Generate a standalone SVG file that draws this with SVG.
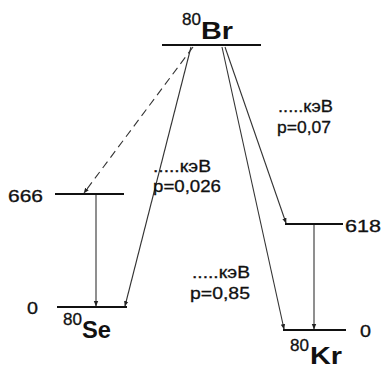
<svg xmlns="http://www.w3.org/2000/svg" width="387" height="369" viewBox="0 0 387 369">
<style>
.lvl{stroke:#111;stroke-width:2.2;fill:none}
.c{stroke:#333;stroke-width:1.1;fill:none}
.t{font-family:"Liberation Sans",Arial,sans-serif;font-size:17px;fill:#111;stroke:#111;stroke-width:0.3}
.n{font-family:"Liberation Sans",Arial,sans-serif;font-size:17px;fill:#111;stroke:#111;stroke-width:0.3}
.el{font-family:"Liberation Sans",Arial,sans-serif;font-size:24px;font-weight:bold;fill:#111}
.sup{font-family:"Liberation Sans",Arial,sans-serif;font-size:17px;fill:#111;stroke:#111;stroke-width:0.3}
</style>
<defs>
<marker id="ah" viewBox="0 0 10 10" refX="9" refY="5" markerWidth="5" markerHeight="5" orient="auto"><path d="M0,1 L10,5 L0,9 z" fill="#222"/></marker>
</defs>
<rect width="387" height="369" fill="#fff"/>
<g id="br">
<line class="lvl" x1="162" y1="45" x2="261" y2="45"/>
<text class="sup" x="182" y="25" textLength="19" lengthAdjust="spacingAndGlyphs">80</text>
<text class="el" x="201" y="39" textLength="32" lengthAdjust="spacingAndGlyphs">Br</text>
</g>
<g id="se666">
<line class="lvl" x1="55" y1="194" x2="124" y2="194"/>
<text class="t" x="8" y="202" textLength="35" lengthAdjust="spacingAndGlyphs">666</text>
</g>
<g id="se0">
<line class="lvl" x1="57" y1="307" x2="127" y2="307"/>
<text class="t" x="27" y="314" textLength="11" lengthAdjust="spacingAndGlyphs">0</text>
<text class="sup" x="63" y="325" textLength="19" lengthAdjust="spacingAndGlyphs">80</text>
<text class="el" x="82" y="338" textLength="29" lengthAdjust="spacingAndGlyphs">Se</text>
</g>
<g id="kr618">
<line class="lvl" x1="285" y1="224" x2="343" y2="224"/>
<text class="t" x="345" y="232" textLength="36" lengthAdjust="spacingAndGlyphs">618</text>
</g>
<g id="kr0">
<line class="lvl" x1="283" y1="330" x2="346" y2="330"/>
<text class="t" x="360" y="337" textLength="11" lengthAdjust="spacingAndGlyphs">0</text>
<text class="sup" x="290" y="351" textLength="19" lengthAdjust="spacingAndGlyphs">80</text>
<text class="el" x="310" y="364" textLength="32" lengthAdjust="spacingAndGlyphs">Kr</text>
</g>
<g id="connectors">
<line class="c" x1="193" y1="47" x2="84" y2="193" stroke-dasharray="8,5" marker-end="url(#ah)"/>
<line class="c" x1="191" y1="47" x2="125" y2="306" marker-end="url(#ah)"/>
<line class="c" x1="225" y1="47" x2="286" y2="223" marker-end="url(#ah)"/>
<line class="c" x1="222" y1="47" x2="284" y2="329" marker-end="url(#ah)"/>
<line class="c" x1="96" y1="195" x2="96" y2="306" marker-end="url(#ah)"/>
<line class="c" x1="314" y1="225" x2="314" y2="329" marker-end="url(#ah)"/>
</g>
<g id="labels">
<text class="n" x="153" y="172" textLength="58" lengthAdjust="spacingAndGlyphs">.....кэВ</text>
<text class="n" x="153" y="192" textLength="68" lengthAdjust="spacingAndGlyphs">p=0,026</text>
<text class="n" x="278" y="112" textLength="55" lengthAdjust="spacingAndGlyphs">.....кэВ</text>
<text class="n" x="277" y="133" textLength="54" lengthAdjust="spacingAndGlyphs">p=0,07</text>
<text class="n" x="192" y="278" textLength="58" lengthAdjust="spacingAndGlyphs">.....кэВ</text>
<text class="n" x="190" y="299" textLength="60" lengthAdjust="spacingAndGlyphs">p=0,85</text>
</g>
</svg>
